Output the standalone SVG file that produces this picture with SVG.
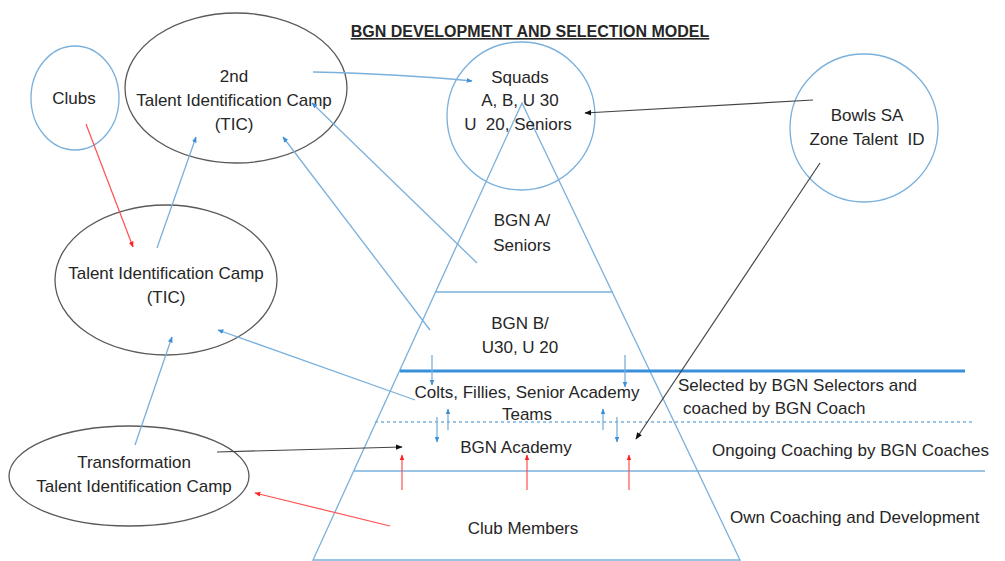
<svg xmlns="http://www.w3.org/2000/svg" width="1005" height="561" viewBox="0 0 1005 561">
<style>
text{font-family:"Liberation Sans",Arial,sans-serif;font-size:17px;fill:#262626;text-anchor:middle;white-space:pre}
.l{text-anchor:start}
.title{font-weight:bold;font-size:16px;text-decoration:underline}
.blue{fill:none;stroke:#7ab0dc;stroke-width:1.3}
.gray{fill:none;stroke:#5a5a5a;stroke-width:1.3}
.cb{stroke:#7ab0dc;stroke-width:1.3;fill:none;marker-end:url(#ab)}
.cr{stroke:#ff5050;stroke-width:1.2;fill:none;marker-end:url(#ar)}
.ck{stroke:#444;stroke-width:1.2;fill:none;marker-end:url(#ak)}
</style>
<defs>
<marker id="ab" viewBox="0 0 10 10" refX="9" refY="5" markerWidth="6" markerHeight="6" markerUnits="userSpaceOnUse" orient="auto"><path d="M0,1 L10,5 L0,9 z" fill="#3d8fd6"/></marker>
<marker id="ar" viewBox="0 0 10 10" refX="9" refY="5" markerWidth="6" markerHeight="6" markerUnits="userSpaceOnUse" orient="auto"><path d="M0,1 L10,5 L0,9 z" fill="#ff2020"/></marker>
<marker id="ak" viewBox="0 0 10 10" refX="9" refY="5" markerWidth="7" markerHeight="7" markerUnits="userSpaceOnUse" orient="auto"><path d="M0,1 L10,5 L0,9 z" fill="#111"/></marker>
</defs>
<rect width="1005" height="561" fill="#fff"/>
<text class="title" x="530" y="37">BGN DEVELOPMENT AND SELECTION MODEL</text>

<g id="pyramid">
<path class="blue" d="M522,103 L313,560 L740,560 Z"/>
<line class="blue" x1="436" y1="292" x2="613" y2="292"/>
<line x1="400" y1="371" x2="965" y2="371" stroke="#3a8fd9" stroke-width="3"/>
<line x1="375" y1="422" x2="973" y2="422" stroke="#7ab0dc" stroke-width="1.3" stroke-dasharray="3,3"/>
<line class="blue" x1="354" y1="471" x2="985" y2="471"/>
<text x="522" y="226">BGN A/</text>
<text x="522" y="251">Seniors</text>
<text x="520" y="329">BGN B/</text>
<text x="520" y="353">U30, U 20</text>
<text x="527" y="398">Colts, Fillies, Senior Academy</text>
<text x="527" y="420">Teams</text>
<text x="516" y="453">BGN Academy</text>
<text x="523" y="534">Club Members</text>
</g>

<g id="clubs"><ellipse class="blue" cx="75" cy="98" rx="44" ry="52"/><text x="74" y="104">Clubs</text></g>
<g id="tic2"><ellipse class="gray" cx="236" cy="88" rx="111" ry="75"/><text x="234" y="82">2nd</text><text x="234" y="106">Talent Identification Camp</text><text x="234" y="130">(TIC)</text></g>
<g id="squads"><circle class="blue" cx="521" cy="116" r="74"/><text x="520" y="83">Squads</text><text x="520" y="106">A, B, U 30</text><text x="518" y="130">U  20, Seniors</text></g>
<g id="bowls"><circle class="blue" cx="864" cy="128" r="74"/><text x="867" y="121">Bowls SA</text><text x="867" y="145">Zone Talent  ID</text></g>
<g id="tic"><ellipse class="gray" cx="166" cy="280" rx="111" ry="75"/><text x="166" y="279">Talent Identification Camp</text><text x="166" y="303">(TIC)</text></g>
<g id="transformation"><ellipse class="gray" cx="129" cy="476" rx="120" ry="50"/><text x="134" y="468">Transformation</text><text x="134" y="492">Talent Identification Camp</text></g>

<g id="labels">
<text class="l" x="678" y="391">Selected by BGN Selectors and</text>
<text class="l" x="683" y="414">coached by BGN Coach</text>
<text class="l" x="712" y="456">Ongoing Coaching by BGN Coaches</text>
<text class="l" x="730" y="523">Own Coaching and Development</text>
</g>

<g id="connectors">
<path class="cb" d="M313,72 Q400,74 472,81"/>
<path class="ck" d="M813,100 L585,113"/>
<path class="ck" d="M820,163 L636,439"/>
<path class="cr" d="M86,124 L133,247"/>
<path class="cb" d="M157,248 L196,137"/>
<path class="cb" d="M430,330 L283,137"/>
<path class="cb" d="M477,263 L312,103"/>
<path class="cb" d="M415,400 L218,330"/>
<path class="cb" d="M135,445 L172,337"/>
<path class="ck" d="M217,452 L402,447"/>
<path class="cr" d="M390,526 L255,493"/>
<path class="cr" d="M402,490 L402,455"/>
<path class="cr" d="M527,490 L527,455"/>
<path class="cr" d="M629,490 L629,455"/>
<path class="cb" d="M432,355 L432,385"/>
<path class="cb" d="M625,355 L625,387"/>
<path class="cb" d="M448,430 L448,409"/>
<path class="cb" d="M437,417 L437,442"/>
<path class="cb" d="M603,430 L603,409"/>
<path class="cb" d="M617,417 L617,442"/>
</g>
</svg>
